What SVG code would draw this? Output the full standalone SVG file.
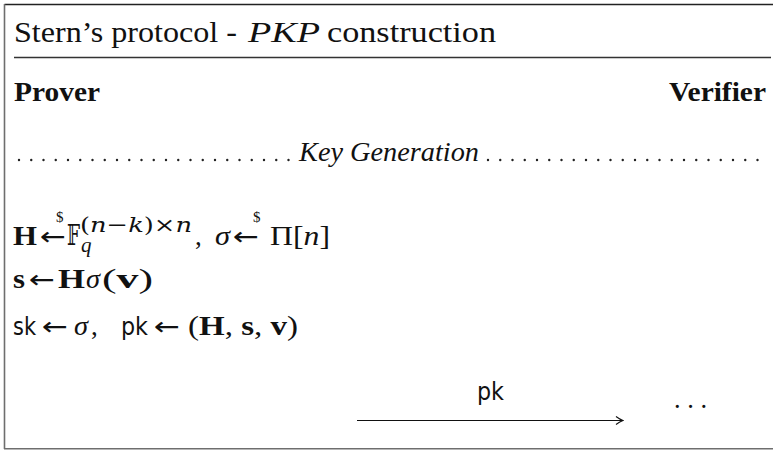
<svg xmlns="http://www.w3.org/2000/svg" width="773" height="450" viewBox="0 0 773 450">
<defs>
<style>
.tt{font-family:"Liberation Serif",serif;font-size:29px;fill:#111}
.it{font-style:italic}
.hd{font-family:"Liberation Serif",serif;font-size:28px;font-weight:bold;fill:#111}
.kg{font-family:"Liberation Serif",serif;font-size:27px;font-style:italic;fill:#111}
.m{font-family:"Liberation Serif","DejaVu Serif",serif;font-size:27px;fill:#111}
.b{font-weight:bold}
.sm{font-size:21px}
.ds{font-family:"DejaVu Serif","DejaVu Sans",serif}
.ar{font-family:"DejaVu Sans",sans-serif;font-size:25px;fill:#111}
.dl{font-family:"Liberation Serif",serif;font-size:15px;fill:#111}
.sf{font-family:"DejaVu Sans","Liberation Sans",sans-serif;font-size:24px;fill:#111}
.dots{stroke:#222;stroke-width:2.4;stroke-linecap:round;stroke-dasharray:0 12.25}
</style>
<marker id="ah" viewBox="0 0 10 10" refX="9" refY="5" markerWidth="10" markerHeight="10" markerUnits="userSpaceOnUse" orient="auto">
<path d="M2,1 Q6,4 9,5 Q6,6 2,9" fill="none" stroke="#111" stroke-width="1.1"/>
</marker>
</defs>
<g id="frame">
<line x1="4.5" y1="4.5" x2="773" y2="4.5" stroke="#222" stroke-width="1.6"/>
<line x1="4.5" y1="4" x2="4.5" y2="449" stroke="#6e6e6e" stroke-width="1.6"/>
<line x1="4" y1="448.8" x2="773" y2="448.8" stroke="#6e6e6e" stroke-width="1.6"/>
<line x1="14" y1="57.5" x2="771" y2="57.5" stroke="#333" stroke-width="1.4"/>
</g>
<g id="title">
<text class="tt" x="14" y="42" textLength="223" lengthAdjust="spacingAndGlyphs">Stern’s protocol -</text>
<text class="tt it" x="248" y="42" textLength="72" lengthAdjust="spacingAndGlyphs">PKP</text>
<text class="tt" x="327" y="42" textLength="169" lengthAdjust="spacingAndGlyphs">construction</text>
</g>
<g id="prover"><text class="hd" x="14" y="101" textLength="86" lengthAdjust="spacingAndGlyphs">Prover</text></g>
<g id="verifier"><text class="hd" x="669" y="101" textLength="97" lengthAdjust="spacingAndGlyphs">Verifier</text></g>
<g id="keygen">
<line class="dots" x1="19" y1="160" x2="296" y2="160"/>
<text class="kg" x="299" y="161" textLength="180" lengthAdjust="spacingAndGlyphs">Key Generation</text>
<line class="dots" x1="488" y1="160" x2="766" y2="160"/>
</g>
<g id="line1">
<text class="m b" x="13" y="245" textLength="24" lengthAdjust="spacingAndGlyphs">H</text>
<text class="ar" x="40" y="245" textLength="26" lengthAdjust="spacingAndGlyphs">←</text>
<text class="dl" x="56" y="222">$</text>
<text class="m ds" x="67" y="245" textLength="13" lengthAdjust="spacingAndGlyphs">𝔽</text>
<text class="m sm ds" x="80" y="232" textLength="112" lengthAdjust="spacingAndGlyphs">(<tspan class="it">n</tspan>−<tspan class="it">k</tspan>)×<tspan class="it">n</tspan></text>
<text class="m sm it" x="81" y="252">q</text>
<text class="m" x="195" y="245">,</text>
<text class="m it" x="215" y="245" textLength="15" lengthAdjust="spacingAndGlyphs">σ</text>
<text class="ar" x="233" y="245" textLength="26" lengthAdjust="spacingAndGlyphs">←</text>
<text class="dl" x="253" y="222">$</text>
<text class="m" x="270" y="245" textLength="60" lengthAdjust="spacingAndGlyphs">Π[<tspan class="it">n</tspan>]</text>
</g>
<g id="line2">
<text class="m b" x="13" y="288" textLength="12" lengthAdjust="spacingAndGlyphs">s</text>
<text class="ar" x="29" y="288" textLength="26" lengthAdjust="spacingAndGlyphs">←</text>
<text class="m b" x="58" y="288" textLength="27" lengthAdjust="spacingAndGlyphs">H</text>
<text class="m it" x="86" y="288" textLength="14" lengthAdjust="spacingAndGlyphs">σ</text>
<text class="m" x="102" y="288" textLength="51" lengthAdjust="spacingAndGlyphs">(<tspan class="b">v</tspan>)</text>
</g>
<g id="line3">
<text class="sf" x="13" y="335" textLength="23" lengthAdjust="spacingAndGlyphs">sk</text>
<text class="ar" x="42" y="335" textLength="26" lengthAdjust="spacingAndGlyphs">←</text>
<text class="m it" x="74" y="335" textLength="14" lengthAdjust="spacingAndGlyphs">σ</text>
<text class="m" x="91" y="335">,</text>
<text class="sf" x="121" y="335" textLength="27" lengthAdjust="spacingAndGlyphs">pk</text>
<text class="ar" x="154" y="335" textLength="26" lengthAdjust="spacingAndGlyphs">←</text>
<text class="m" x="188" y="335" textLength="110" lengthAdjust="spacingAndGlyphs">(<tspan class="b">H</tspan>, <tspan class="b">s</tspan>, <tspan class="b">v</tspan>)</text>
</g>
<g id="connectors">
<line x1="357" y1="420.5" x2="623" y2="420.5" stroke="#111" stroke-width="1.2" marker-end="url(#ah)"/>
<text class="sf" x="477" y="400" textLength="27" lengthAdjust="spacingAndGlyphs">pk</text>
</g>
<g id="verifier-dots"><text class="m" x="674" y="408" textLength="33" lengthAdjust="spacingAndGlyphs">. . .</text></g>
</svg>
